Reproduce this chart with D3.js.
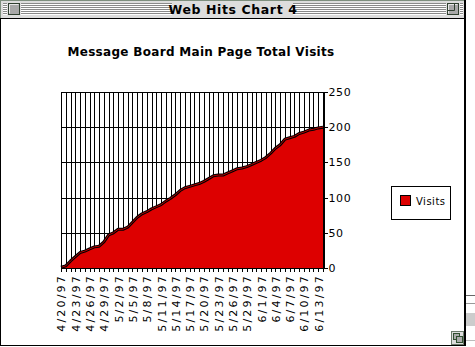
<!DOCTYPE html>
<html>
<head>
<meta charset="utf-8">
<script src="https://cdn.jsdelivr.net/npm/d3@7"></script>
<style>
  html, body { margin: 0; padding: 0; background: #fff; }
  svg { display: block; }
  text { font-family: "DejaVu Sans", sans-serif; }
</style>
</head>
<body>
<svg id="win" width="475" height="347"></svg>
<script>
// Daily categories, 4/20/97 through 6/14/97
const days = [
  "4/20/97","4/21/97","4/22/97","4/23/97","4/24/97","4/25/97","4/26/97","4/27/97",
  "4/28/97","4/29/97","4/30/97","5/1/97","5/2/97","5/3/97","5/4/97","5/5/97",
  "5/6/97","5/7/97","5/8/97","5/9/97","5/10/97","5/11/97","5/12/97","5/13/97",
  "5/14/97","5/15/97","5/16/97","5/17/97","5/18/97","5/19/97","5/20/97","5/21/97",
  "5/22/97","5/23/97","5/24/97","5/25/97","5/26/97","5/27/97","5/28/97","5/29/97",
  "5/30/97","5/31/97","6/1/97","6/2/97","6/3/97","6/4/97","6/5/97","6/6/97",
  "6/7/97","6/8/97","6/9/97","6/10/97","6/11/97","6/12/97","6/13/97","6/14/97"
];

// Running total of visits per day
const visits = [
  1, 3, 10, 16, 22, 24, 27, 30,
  31, 37, 47, 50, 55, 55, 58, 65,
  72, 77, 80, 84, 87, 90, 95, 99,
  104, 110, 114, 116, 118, 120, 123, 127,
  131, 132, 132, 135, 138, 141, 142, 144,
  147, 150, 153, 157, 163, 170, 175, 183,
  185, 187, 191, 193, 196, 197, 199, 200
];

// Labelled dates on the category axis (every third day)
const dateLabels = [
  "4/20/97","4/23/97","4/26/97","4/29/97","5/2/97","5/5/97","5/8/97","5/11/97",
  "5/14/97","5/17/97","5/20/97","5/23/97","5/26/97","5/29/97","6/1/97","6/4/97",
  "6/7/97","6/10/97","6/13/97"
];
const valueTicks = [0, 50, 100, 150, 200, 250];

const seriesName = "Visits";
const chartTitle = "Message Board Main Page Total Visits";
const windowTitle = "Web Hits Chart 4";

const svg = d3.select("#win");

// ---------- window frame ----------
const W = 466, H = 346;
const frame = svg.append("g");

// bit of the window behind, on the far right
const behind = frame.append("g");
behind.append("line").attr("x1", 466).attr("x2", 475).attr("y1", 295.5).attr("y2", 295.5).attr("stroke", "#666");
behind.append("line").attr("x1", 466).attr("x2", 475).attr("y1", 303.5).attr("y2", 303.5).attr("stroke", "#999");
behind.append("rect").attr("x", 466).attr("y", 313).attr("width", 9).attr("height", 13).attr("fill", "#ccc");
behind.append("line").attr("x1", 466).attr("x2", 475).attr("y1", 340.5).attr("y2", 340.5).attr("stroke", "#bbb");

// title bar
frame.append("rect").attr("x", 0.5).attr("y", 0.5).attr("width", W - 1).attr("height", 18)
  .attr("fill", "#dddddd").attr("stroke", "#7e8f7e");
const stripes = frame.append("g").attr("shape-rendering", "crispEdges");
for (let yy = 3; yy <= 14; yy += 2) {
  [[3, 172], [293, 463]].forEach(([a, b]) => {
    stripes.append("line").attr("x1", a).attr("x2", b).attr("y1", yy + 0.5).attr("y2", yy + 0.5).attr("stroke", "#8a8a8a");
    stripes.append("line").attr("x1", a).attr("x2", b).attr("y1", yy + 1.5).attr("y2", yy + 1.5).attr("stroke", "#ffffff");
  });
}
// close box and zoom box
[[8, false], [447, true]].forEach(([bx, zoomBox]) => {
  frame.append("rect").attr("x", bx - 1).attr("y", 2).attr("width", 14).attr("height", 15).attr("fill", "#dddddd");
  frame.append("rect").attr("x", bx + 0.5).attr("y", 3.5).attr("width", 11).attr("height", 11)
    .attr("fill", "#a8a8a8").attr("stroke", "#2f3f2f");
  frame.append("path").attr("d", `M${bx + 1.5},${13.5}V${4.5}H${bx + 10.5}`).attr("fill", "none").attr("stroke", "#e8e8e8");
  if (zoomBox) {
    frame.append("path").attr("d", `M${bx + 0.5},${10.5}H${bx + 7.5}V${3.5}`).attr("fill", "none").attr("stroke", "#2f3f2f");
  }
});
frame.append("text").attr("x", 233).attr("y", 14)
  .attr("text-anchor", "middle").attr("font-size", 12.5).attr("font-weight", "bold")
  .attr("letter-spacing", 0.6).attr("fill", "#000").text(windowTitle);

// frame edges
frame.append("line").attr("x1", 0).attr("x2", W).attr("y1", 18.5).attr("y2", 18.5).attr("stroke", "#000");
frame.append("line").attr("x1", 465).attr("x2", 465).attr("y1", 0).attr("y2", H).attr("stroke", "#000").attr("stroke-width", 2);
frame.append("line").attr("x1", 0).attr("x2", W).attr("y1", 345.5).attr("y2", 345.5).attr("stroke", "#000");
frame.append("line").attr("x1", 0.5).attr("x2", 0.5).attr("y1", 18).attr("y2", H).attr("stroke", "#000");

// grow box
const gb = frame.append("g").attr("shape-rendering", "crispEdges");
gb.append("rect").attr("x", 451.5).attr("y", 331.5).attr("width", 12).attr("height", 13).attr("fill", "#ddd").attr("stroke", "#6a7a6a");
gb.append("rect").attr("x", 453.5).attr("y", 333.5).attr("width", 6).attr("height", 6).attr("fill", "#aaa").attr("stroke", "#2f4f2f");
gb.append("rect").attr("x", 456.5).attr("y", 336.5).attr("width", 6).attr("height", 6).attr("fill", "#aaa").attr("stroke", "#2f4f2f");

// ---------- chart ----------
const plot = { left: 61, right: 323, top: 92, bottom: 268 };

const x = d3.scalePoint().domain(days).range([plot.left, plot.right]);
const y = d3.scaleLinear().domain([0, 250]).range([plot.bottom, plot.top]);

svg.append("text").attr("x", 201).attr("y", 56)
  .attr("text-anchor", "middle").attr("font-size", 12).attr("font-weight", "bold")
  .attr("letter-spacing", 0.3).attr("fill", "#000").text(chartTitle);

const chart = svg.append("g");

// grid: one vertical line per day, horizontal lines at value ticks
const grid = chart.append("g").attr("shape-rendering", "crispEdges").attr("stroke", "#000");
grid.selectAll("line.v").data(days).join("line")
  .attr("x1", d => Math.round(x(d)) + 0.5).attr("x2", d => Math.round(x(d)) + 0.5)
  .attr("y1", y(250)).attr("y2", y(0));
grid.selectAll("line.h").data(valueTicks).join("line")
  .attr("x1", plot.left).attr("x2", plot.right)
  .attr("y1", d => Math.round(y(d)) + 0.5).attr("y2", d => Math.round(y(d)) + 0.5);

const series = days.map((d, i) => ({ day: d, value: visits[i] }));

const area = d3.area().x(d => x(d.day)).y0(y(0)).y1(d => y(d.value));
const line = d3.line().x(d => x(d.day)).y(d => y(d.value));

chart.append("path").datum(series).attr("d", area).attr("fill", "#dd0000");
chart.append("path").datum(series).attr("d", line)
  .attr("fill", "none").attr("stroke", "#000").attr("stroke-width", 3).attr("stroke-linejoin", "round");
chart.append("path").datum(series).attr("d", line)
  .attr("fill", "none").attr("stroke", "#b80000").attr("stroke-width", 1);

// left edge of plot
chart.append("line").attr("x1", plot.left + 0.5).attr("x2", plot.left + 0.5)
  .attr("y1", y(250)).attr("y2", y(0)).attr("stroke", "#000").attr("shape-rendering", "crispEdges");

// category axis
const xAxis = d3.axisBottom(x)
  .tickValues(days)
  .tickSize(4)
  .tickPadding(2)
  .tickFormat(d => dateLabels.includes(d) ? d : "");
const gx = chart.append("g").attr("transform", `translate(0,${plot.bottom})`).call(xAxis);
gx.select(".domain").attr("stroke", "#000").attr("shape-rendering", "crispEdges");
gx.selectAll(".tick line").attr("stroke", "#000").attr("shape-rendering", "crispEdges");
gx.selectAll(".tick text")
  .attr("font-family", "'DejaVu Sans', sans-serif").attr("font-size", 11)
  .attr("letter-spacing", 2.2).attr("fill", "#000")
  .attr("transform", "rotate(-90)")
  .attr("text-anchor", "end").attr("x", -6).attr("y", 0).attr("dy", "0.36em");

// value axis on the right
const yAxis = d3.axisRight(y).tickValues(valueTicks).tickSize(4).tickPadding(1);
const gy = chart.append("g").attr("transform", `translate(${plot.right + 0.5},0)`).call(yAxis);
gy.select(".domain").attr("stroke", "#000").attr("shape-rendering", "crispEdges");
gy.selectAll(".tick line").attr("stroke", "#000").attr("shape-rendering", "crispEdges");
gy.selectAll(".tick text")
  .attr("font-family", "'DejaVu Sans', sans-serif").attr("font-size", 11)
  .attr("letter-spacing", 0.6).attr("fill", "#000");

// legend
const legend = svg.append("g");
legend.append("rect").attr("x", 391.5).attr("y", 186.5).attr("width", 59).attr("height", 33)
  .attr("fill", "#fff").attr("stroke", "#000");
legend.append("rect").attr("x", 400.5).attr("y", 195.5).attr("width", 10).attr("height", 10)
  .attr("fill", "#dd0000").attr("stroke", "#000");
legend.append("text").attr("x", 416).attr("y", 205).attr("font-size", 10)
  .attr("letter-spacing", 0.5).attr("fill", "#000").text(seriesName);
</script>
</body>
</html>
